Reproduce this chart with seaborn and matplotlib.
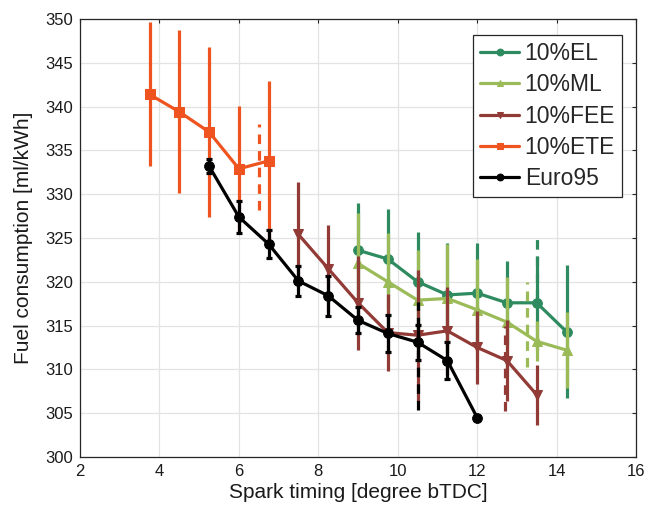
import pandas as pd
import matplotlib.pyplot as plt
import seaborn as sns

# ---------------- Data ----------------
el_x = [9, 9.75, 10.5, 11.25, 12, 12.75, 13.5, 14.25]
el_y = [323.6, 322.6, 320.0, 318.5, 318.7, 317.6, 317.6, 314.3]
el_err = [5.4, 5.7, 5.7, 5.9, 5.7, 4.8, 5.4, 7.6]

ml_x = [9, 9.75, 10.5, 11.25, 12, 12.75, 13.5, 14.25]
ml_y = [322.1, 320.0, 317.9, 318.1, 316.8, 315.4, 313.2, 312.2]
ml_err = [5.8, 5.6, 5.7, 6.2, 5.8, 5.2, 2.3, 4.3]

fee_x = [7.5, 8.25, 9, 9.75, 10.5, 11.25, 12, 12.75, 13.5]
fee_y = [325.4, 321.5, 317.6, 314.2, 313.9, 314.4, 312.5, 311.0, 307.1]
fee_err = [6.0, 5.0, 5.4, 4.4, 7.5, 5.0, 4.2, 4.6, 3.4]

ete_x = [3.75, 4.5, 5.25, 6.0, 6.75]
ete_y = [341.4, 339.4, 337.1, 332.9, 333.8]
ete_err = [8.2, 9.3, 9.7, 7.2, 9.1]

euro_x = [5.25, 6, 6.75, 7.5, 8.25, 9, 9.75, 10.5, 11.25, 12]
euro_y = [333.2, 327.4, 324.3, 320.1, 318.4, 315.6, 314.1, 313.1, 311.0, 304.5]
euro_err = [0.8, 1.8, 1.6, 1.7, 2.3, 1.5, 2.1, 2.0, 2.1, 0]

# extra dashed bars
dash_x = [6.5, 10.5, 12.7, 13.25, 13.5]
dash_lo = [328.2, 305.4, 305.2, 310.3, 318.0]
dash_hi = [338.0, 317.7, 314.9, 320.0, 325.0]
dash_names = ["10%ETE", "Euro95", "10%FEE", "10%ML", "10%EL"]

series = [
    ("10%EL", el_x, el_y, el_err, "#2e8b5f", "o", 0),
    ("10%ML", ml_x, ml_y, ml_err, "#9bbb59", "^", 0),
    ("10%FEE", fee_x, fee_y, fee_err, "#913a36", "v", 0),
    ("10%ETE", ete_x, ete_y, ete_err, "#ef5420", "s", 0),
    ("Euro95", euro_x, euro_y, euro_err, "black", "o", 2),
]
colors = {s[0]: s[4] for s in series}

# ---------------- Plot ----------------
sns.set_style("whitegrid")
plt.rcParams["font.family"] = ["Liberation Sans", "DejaVu Sans"]

fig = plt.figure(figsize=(6.49, 5.13), dpi=100)
ax = fig.add_axes([0.1233, 0.1092, 0.8567, 0.8538])

for name, xs, ys, errs, col, mk, cap in series:
    df = pd.DataFrame({"x": xs, "y": ys})
    ax.errorbar(xs, ys, yerr=errs, fmt="none", ecolor=col, elinewidth=2.3,
                capsize=cap, capthick=2.3)
    sns.lineplot(data=df, x="x", y="y", ax=ax, color=col, marker=mk,
                 markersize=7, markeredgecolor=col, linewidth=2.3,
                 label=name, sort=False)

for dx, lo, hi, nm in zip(dash_x, dash_lo, dash_hi, dash_names):
    ax.vlines(dx, lo, hi, colors=colors[nm], linestyles=(0, (3, 2.2)),
              linewidth=2.3, zorder=3)

ax.set_xlim(2, 16)
ax.set_ylim(300, 350)
ax.set_xticks(range(2, 17, 2))
ax.set_yticks(range(300, 351, 5))
ax.grid(True, color="#e3e3e3", linewidth=0.9)
for sp in ax.spines.values():
    sp.set_color("#262626")
    sp.set_linewidth(0.9)
ax.tick_params(direction="in", length=3, width=0.8, colors="#262626",
               labelsize=12, top=True, right=True, labelcolor="#1a1a1a", pad=5)
ax.set_xlabel("Spark timing [degree bTDC]", fontsize=15, color="#1a1a1a", labelpad=3)
ax.set_ylabel("Fuel consumption [ml/kWh]", fontsize=15, color="#1a1a1a", labelpad=9)

leg = ax.legend(loc="upper right", bbox_to_anchor=(0.975, 0.963), fontsize=16.5,
                frameon=True, fancybox=False, framealpha=1, edgecolor="#262626",
                markerscale=0.7, handlelength=1.7, handletextpad=0.25,
                labelspacing=0.36, borderpad=0.3, borderaxespad=0)
leg.get_frame().set_linewidth(0.9)

fig.savefig("out.png", dpi=100)
